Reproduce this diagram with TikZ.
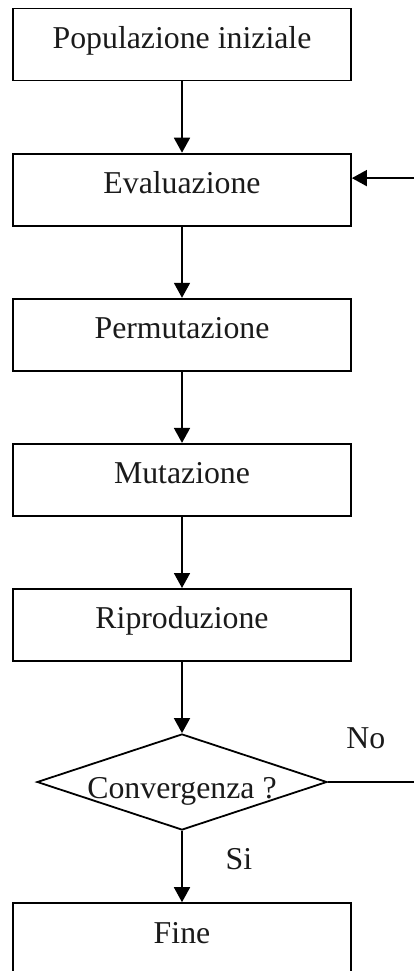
\documentclass[tikz,border=0pt]{standalone}
\usepackage{fontspec}
\setmainfont{Liberation Serif}
\usetikzlibrary{positioning, shapes.geometric, arrows.meta}

\begin{document}
\begin{tikzpicture}[x=1pt, y=1pt,
    stepbox/.style={draw=borderColour, line width=1.8pt, rectangle, minimum width=338pt, minimum height=72pt, inner sep=0pt, text height=22pt, text depth=14pt},
    decision/.style={draw=borderColour, line width=1.8pt, diamond, minimum width=290pt, minimum height=96pt, inner sep=0pt},
    flow/.style={draw=borderColour, line width=1.8pt, -{Triangle[length=15pt, width=16pt]}},
    node distance=71.3pt,
    font=\fontsize{31.8}{38}\selectfont]
    % Define colours
    \definecolor{borderColour}{HTML}{000000}
    \definecolor{textColour}{HTML}{1A1A1A}

    % Fix the page size
    \useasboundingbox (0,0) rectangle (414,-971);

    % Draw the steps
    \node[stepbox, text=textColour] (pop) at (182,-44.5) {Populazione iniziale};
    \node[stepbox, text=textColour, below=of pop] (eval) {Evaluazione};
    \node[stepbox, text=textColour, below=of eval] (perm) {Permutazione};
    \node[stepbox, text=textColour, below=of perm] (mut) {Mutazione};
    \node[stepbox, text=textColour, below=of mut] (rip) {Riproduzione};
    \node[decision, below=of rip] (conv) {};
    \node[anchor=base, text=textColour] (convtext) at ([yshift=-16.5pt]conv.center) {Convergenza ?};
    \node[stepbox, text=textColour, below=of conv] (fine) {Fine};

    % Draw the arrows between the steps
    \foreach \a/\b in {pop/eval, eval/perm, perm/mut, mut/rip, rip/conv, conv/fine}
        \draw[flow] (\a.south) -- (\b.north);

    % Draw the loop back to the evaluation
    \coordinate (evalin) at ([yshift=11.5pt]eval.east);
    \draw[flow] (conv.east) -- ++(95pt,0) |- (evalin);

    % Label the two exits
    \node[anchor=base, text=textColour] (no) at ([xshift=38pt, yshift=34pt]conv.east) {No};
    \node[anchor=base, text=textColour] (si) at ([xshift=57pt, yshift=-39pt]conv.south) {Si};

\end{tikzpicture}
\end{document}
